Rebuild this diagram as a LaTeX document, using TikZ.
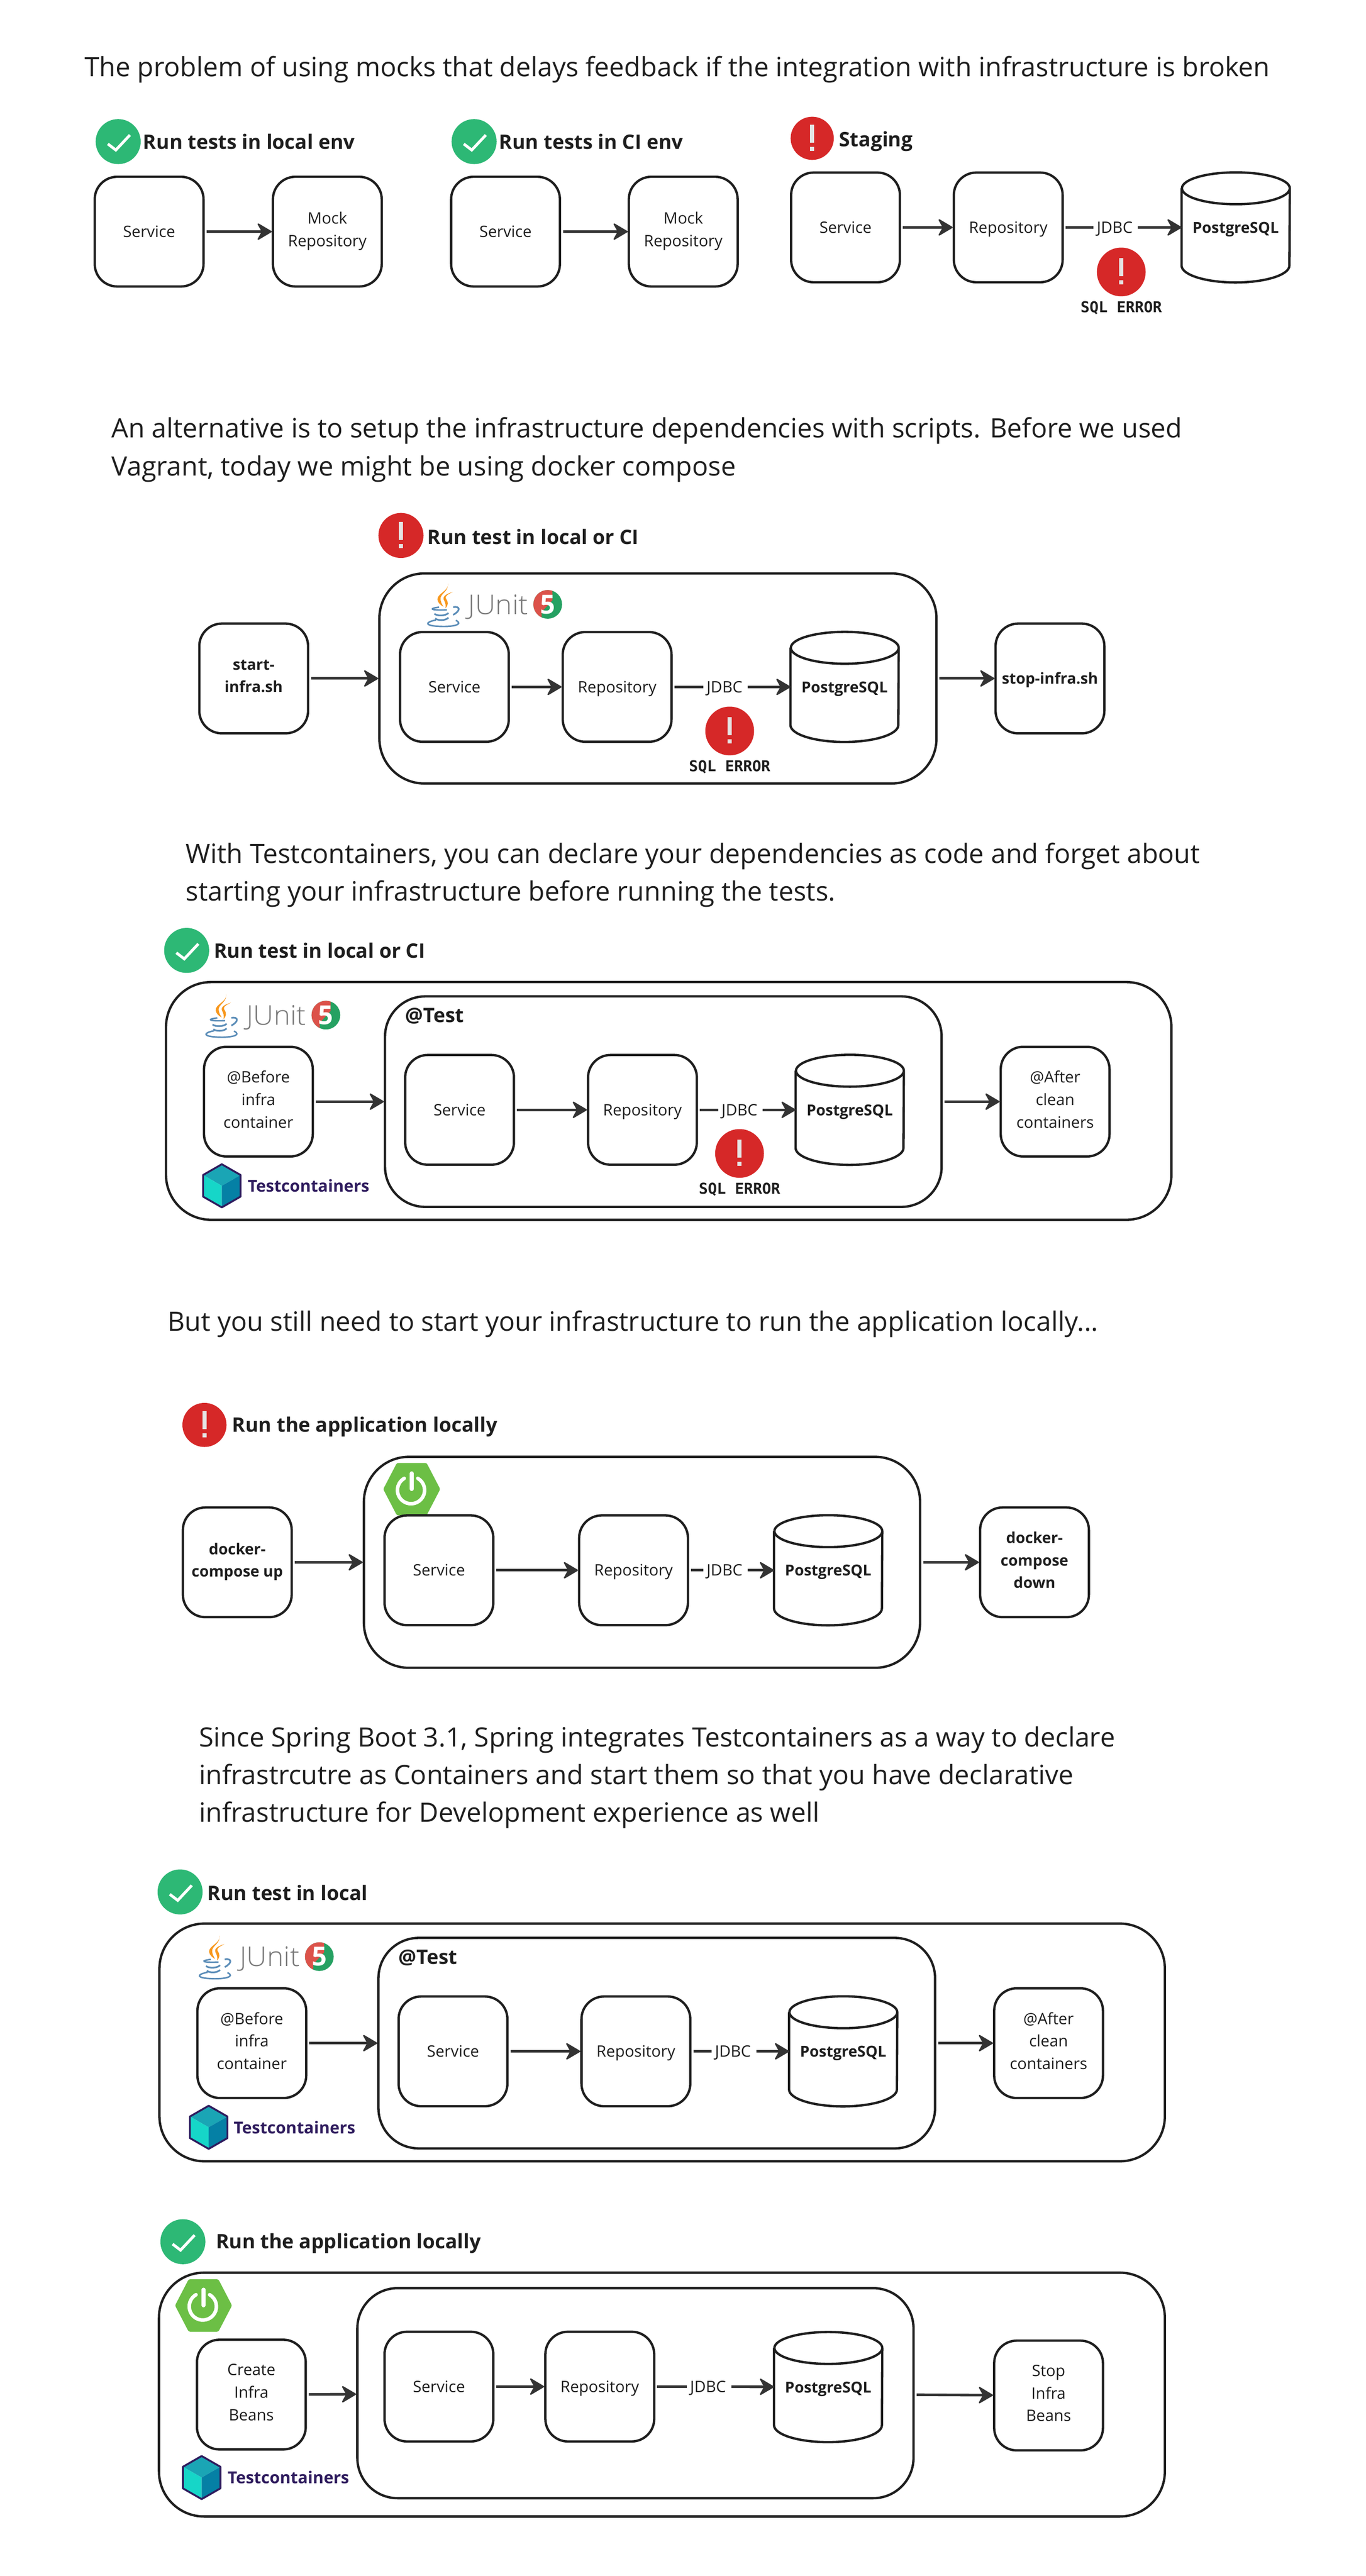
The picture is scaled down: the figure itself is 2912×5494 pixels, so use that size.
\documentclass[tikz,border=0pt]{standalone}
\usepackage{fontspec}
\setmainfont{Open Sans}
\newfontfamily\lite[FakeStretch=1.04]{Open Sans Light}
\newfontfamily\monof{DejaVu Sans Mono}
\usetikzlibrary{arrows.meta}
\definecolor{ink}{HTML}{1E1E1E}
\definecolor{arrowc}{HTML}{333333}
\definecolor{okg}{HTML}{2DB875}
\definecolor{errr}{HTML}{D62828}
\definecolor{tcp}{HTML}{2F1C5E}
\definecolor{springg}{HTML}{6CBF45}
\definecolor{javab}{HTML}{5B8DB8}
\definecolor{javao}{HTML}{F8981D}
\definecolor{juniot}{HTML}{7A7A7A}
\definecolor{jured}{HTML}{DC524A}
\definecolor{jugreen}{HTML}{25A162}
\definecolor{tctop}{HTML}{1AA5B5}
\definecolor{tcleft}{HTML}{16D6C8}
\definecolor{tcright}{HTML}{0580A5}
\newcommand{\vst}{\rule[-5pt]{0pt}{22pt}}
\tikzset{
  x=0.5pt,y=-0.5pt,
  strutted/.style={execute at begin node=\vst,execute at end node=\vst},
  boxn/.style={strutted,draw=ink,line width=2.5pt,rounded corners=24pt,minimum width=116pt,minimum height=117pt,inner sep=0pt,align=center,font=\fontsize{16.8}{24}\selectfont,text=ink},
  boldbox/.style={boxn,font=\bfseries\fontsize{16.2}{24}\selectfont},
  frame/.style n args={2}{draw=ink,line width=2.5pt,rounded corners=48pt,minimum width=#1*0.5pt,minimum height=#2*0.5pt,inner sep=0pt},
  innerframe/.style n args={2}{frame={#1}{#2},rounded corners=43pt},
  dbn/.style={strutted,minimum width=115pt,minimum height=117pt,inner sep=0pt,align=center,font=\bfseries\fontsize{16.2}{24}\selectfont,text=ink},
  dbline/.style={draw=ink,line width=2.5pt},
  arr/.style={draw=arrowc,line width=2.8pt,-{Stealth[length=17pt,width=20pt,inset=5.5pt,line width=1.5pt,round]},shorten <=2pt},
  plainc/.style={draw=arrowc,line width=2.8pt,shorten <=2pt},
  jdbcn/.style={strutted,inner sep=3.5pt,font=\fontsize{16.8}{24}\selectfont,text=ink},
  headn/.style={anchor=west,inner sep=0pt,font=\bfseries\fontsize{21.3}{24}\selectfont,text=ink},
  para/.style={anchor=west,inner sep=0pt,align=left,font=\fontsize{28.4}{40.3}\selectfont,text=ink},
  sqln/.style={inner sep=0pt,font=\monof\bfseries\fontsize{16}{20}\selectfont,text=ink},
  okb/.style={circle,fill=okg,minimum size=48pt,inner sep=0pt},
  errb/.style={circle,fill=errr,minimum size=#1*1pt,inner sep=0pt},
  tctext/.style={anchor=west,inner sep=0pt,font=\bfseries\fontsize{17.6}{20}\selectfont,text=tcp},
}
\newcommand{\okbadge}[3]{%
  \node[okb] (#1) at (#2,#3) {};
  \draw[white,line width=3pt] ([xshift=-11pt,yshift=-2.5pt]#1.center) -- ([xshift=-2.5pt,yshift=-9pt]#1.center) -- ([xshift=12.5pt,yshift=7pt]#1.center);}
\newcommand{\errbadge}[4]{%
  \node[errb=#4] (#1) at (#2,#3) {};
  \fill[white!90!black] ([xshift=-2.3pt,yshift=14.5pt]#1.center) rectangle ([xshift=2.3pt,yshift=-4.5pt]#1.center);
  \fill[white!90!black] ([xshift=-2.3pt,yshift=-9pt]#1.center) rectangle ([xshift=2.3pt,yshift=-13.5pt]#1.center);}
\newcommand{\dbcyl}[3]{%
  \node[dbn] (#1) at (#2,#3) {PostgreSQL};
  \draw[dbline] ([yshift=-17pt]#1.north west) -- ([yshift=18pt]#1.south west)
    arc[start angle=180,end angle=360,x radius=57.5pt,y radius=18pt]
    -- ([yshift=-17pt]#1.north east)
    arc[start angle=0,end angle=180,x radius=57.5pt,y radius=17pt]
    arc[start angle=180,end angle=360,x radius=57.5pt,y radius=17pt];}
\newcommand{\junitlogo}[3]{%
  \begin{scope}[shift={(#2,#3)}]
    \fill[javao] (45.3,-46) .. controls (48,-29.3) and (21.3,-24.3) .. (23,-11) .. controls (23.7,-4.3) and (29.7,.7) .. (35.7,4) .. controls (33,-1) and (28,-7.7) .. (29.7,-16) .. controls (33,-26) and (46.3,-29.3) .. cycle;
    \fill[javao] (55.7,-27.7) .. controls (44.7,-24.3) and (33,-19.3) .. (36.3,-11) .. controls (39.7,-4.3) and (41.3,.7) .. (39.7,7.3) .. controls (46.3,.7) and (46.3,-6) .. (41.3,-12.7) .. controls (38,-19.3) and (46.3,-22.7) .. cycle;
    \draw[javab,line width=1.6pt] (26.3,5) .. controls (5,7.3) and (5,12.3) .. (43,10.7);
    \draw[javab,line width=1.8pt] (16.3,19) .. controls (22,24) and (40,24) .. (46.3,17.3);
    \draw[javab,line width=1.8pt] (18,29) .. controls (24,34) and (40,34) .. (46.3,27.3);
    \draw[javab,line width=1.8pt] (56.3,4.7) .. controls (71.3,2.3) and (73,12.3) .. (56.3,21.3);
    \draw[javab,line width=1.6pt] (19.7,32.3) .. controls (-5,37) and (-5,45) .. (30,46) .. controls (55,47) and (80,42) .. (62,33);
    \node[anchor=base west,inner sep=0pt,text=juniot,font=\lite\fontsize{29}{32}\selectfont] (#1t) at (88,20) {JUnit};
    \fill[jugreen] (258,-1) circle [radius=15.3pt];
    \begin{scope}
      \clip (220,-35) -- (268,-35) -- (268,-10) -- (245,15) -- (245,35) -- (220,35) -- cycle;
      \fill[jured] (258,-1) circle [radius=15.3pt];
    \end{scope}
    \node[inner sep=0pt,text=white,font=\bfseries\fontsize{28}{28}\selectfont] (#1f) at (258,-1) {5};
  \end{scope}}
\newcommand{\tclogo}[4]{%
  \begin{scope}[shift={(#2,#3)}]
    \fill[tctop] (0,-46) -- (40,-23) -- (0,0) -- (-40,-23) -- cycle;
    \fill[tcleft] (-40,-23) -- (0,0) -- (0,46) -- (-40,23) -- cycle;
    \fill[tcright] (40,-23) -- (0,0) -- (0,46) -- (40,23) -- cycle;
    \draw[tcp,line width=2pt,line join=round] (0,-46) -- (40,-23) -- (40,23) -- (0,46) -- (-40,23) -- (-40,-23) -- cycle;
    \node[tctext] (#1) at (#4,0) {Testcontainers};
  \end{scope}}
\newcommand{\springlogo}[3]{%
  \begin{scope}[shift={(#2,#3)}]
    \node[inner sep=0pt,minimum size=0pt] (#1) at (0,0) {};
    \fill[springg,draw=springg,line width=6pt,line join=round] (-54,0) -- (-28,-50) -- (28,-50) -- (54,0) -- (28,50) -- (-28,50) -- cycle;
    \draw[white,line width=3.8pt,line cap=round] (13,-23) arc[start angle=60,end angle=-240,x radius=14.5pt,y radius=14.5pt];
    \draw[white,line width=4pt,line cap=round] (0,-34) -- (0,0);
  \end{scope}}
\begin{document}
\begin{tikzpicture}
\useasboundingbox (0,0) rectangle (2912,5494);
\fill[white] (0,0) rectangle (2912,5494);

% Section 1
\node[para] (t1) at (180,148) {The problem of using mocks that delays feedback if the integration with infrastructure is broken};
\okbadge{c1}{252}{302}
\node[headn] (h1) at (305,302) {Run tests in local env};
\node[boxn] (s1) at (318,494) {Service};
\node[boxn] (m1) at (698,494) {Mock\\Repository};
\draw[arr] (s1) -- (m1);
\okbadge{c2}{1011}{302}
\node[headn] (h2) at (1064,302) {Run tests in CI env};
\node[boxn] (s2) at (1078,494) {Service};
\node[boxn] (m2) at (1457,494) {Mock\\Repository};
\draw[arr] (s2) -- (m2);
\errbadge{e3}{1732}{295}{46}
\node[headn] (h3) at (1789,301) {Staging};
\node[boxn] (s3) at (1803,485) {Service};
\node[boxn] (r3) at (2150,485) {Repository};
\dbcyl{p3}{2635}{485}
\node[jdbcn] (j3) at (2377,485) {JDBC};
\draw[arr] (s3) -- (r3);
\draw[plainc] (r3) -- (j3);
\draw[arr] (j3) -- (p3);
\errbadge{x3}{2391}{580}{52}
\node[sqln] (q3) at (2391,657) {SQL ERROR};

% Section 2
\node[para] (t2) at (238,959) {An alternative is to setup the infrastructure dependencies with scripts. Before we used\\Vagrant, today we might be using docker compose};
\errbadge{e4}{855}{1142}{48}
\node[headn] (h4) at (911,1145) {Run test in local or CI};
\node[frame={1188}{448}] (o4) at (1403,1447) {};
\junitlogo{ju4}{910}{1290}
\node[boldbox] (b4) at (541,1447) {start-\\infra.sh};
\node[boxn] (s4) at (969,1465) {Service};
\node[boxn] (r4) at (1316,1465) {Repository};
\dbcyl{p4}{1801}{1465}
\node[jdbcn] (j4) at (1545,1465) {JDBC};
\node[boldbox] (a4) at (2239,1447) {stop-infra.sh};
\draw[arr] (b4) -- (o4);
\draw[arr] (s4) -- (r4);
\draw[plainc] (r4) -- (j4);
\draw[arr] (j4) -- (p4);
\draw[arr] (o4) -- (a4);
\errbadge{x4}{1556}{1559}{52}
\node[sqln] (q4) at (1556,1636) {SQL ERROR};

% Section 3
\node[para] (t3) at (396,1866) {With Testcontainers, you can declare your dependencies as code and forget about\\starting your infrastructure before running the tests.};
\okbadge{c5}{398}{2027}
\node[headn] (h5) at (456,2027) {Run test in local or CI};
\node[frame={2144}{507}] (o5) at (1426,2348) {};
\node[innerframe={1187}{449}] (i5) at (1414.5,2349.5) {};
\junitlogo{ju5}{437}{2166}
\node[headn] (at5) at (864,2167) {@Test};
\node[boxn] (b5) at (551,2349.5) {@Before\\infra\\container};
\node[boxn] (s5) at (980,2367) {Service};
\node[boxn] (r5) at (1370,2367) {Repository};
\dbcyl{p5}{1812}{2367}
\node[jdbcn] (j5) at (1577,2367) {JDBC};
\node[boxn] (a5) at (2250,2349.5) {@After\\clean\\containers};
\draw[arr] (b5) -- (i5);
\draw[arr] (s5) -- (r5);
\draw[plainc] (r5) -- (j5);
\draw[arr] (j5) -- (p5);
\draw[arr] (i5) -- (a5);
\errbadge{x5}{1577}{2460}{52}
\node[sqln] (q5) at (1577,2537) {SQL ERROR};
\tclogo{tc5}{473}{2529}{55}

% Section 4
\node[para] (t4) at (357,2824) {But you still need to start your infrastructure to run the application locally...};
\errbadge{e6}{436}{3039}{47}
\node[headn] (h6) at (495,3043) {Run the application locally};
\node[frame={1186}{450}] (o6) at (1369,3332) {};
\springlogo{sp6}{878}{3176}
\node[boldbox] (b6) at (506,3332) {docker-\\compose up};
\node[boxn] (s6) at (936,3349) {Service};
\node[boxn] (r6) at (1351,3349) {Repository};
\dbcyl{p6}{1766}{3349}
\node[jdbcn] (j6) at (1545,3349) {JDBC};
\node[boldbox] (a6) at (2206,3332) {docker-\\compose\\down};
\draw[arr] (b6) -- (o6);
\draw[arr] (s6) -- (r6);
\draw[plainc] (r6) -- (j6);
\draw[arr] (j6) -- (p6);
\draw[arr] (o6) -- (a6);

% Section 5
\node[para] (t5) at (424,3791) {Since Spring Boot 3.1, Spring integrates Testcontainers as a way to declare\\infrastrcutre as Containers and start them so that you have declarative\\infrastructure for Development experience as well};
\okbadge{c7}{384}{4035}
\node[headn] (h7) at (442,4037) {Run test in local};
\node[frame={2144}{507}] (o7) at (1412,4356) {};
\node[innerframe={1187}{449}] (i7) at (1400.5,4357.5) {};
\junitlogo{ju7}{423}{4174}
\node[headn] (at7) at (850,4175) {@Test};
\node[boxn] (b7) at (537,4357.5) {@Before\\infra\\container};
\node[boxn] (s7) at (966,4375) {Service};
\node[boxn] (r7) at (1356,4375) {Repository};
\dbcyl{p7}{1798}{4375}
\node[jdbcn] (j7) at (1563,4375) {JDBC};
\node[boxn] (a7) at (2236,4357.5) {@After\\clean\\containers};
\draw[arr] (b7) -- (i7);
\draw[arr] (s7) -- (r7);
\draw[plainc] (r7) -- (j7);
\draw[arr] (j7) -- (p7);
\draw[arr] (i7) -- (a7);
\tclogo{tc7}{445}{4537}{53}

% Section 6
\okbadge{c8}{390}{4781}
\node[headn] (h8) at (460,4785) {Run the application locally};
\node[frame={2145}{520}] (o8) at (1411.5,5107) {};
\node[innerframe={1186}{448}] (i8) at (1355,5104) {};
\springlogo{sp8}{434}{4917}
\node[boxn] (b8) at (536,5107) {Create\\Infra\\Beans};
\node[boxn] (s8) at (936,5090) {Service};
\node[boxn] (r8) at (1279,5090) {Repository};
\dbcyl{p8}{1766}{5091}
\node[jdbcn] (j8) at (1510,5090) {JDBC};
\node[boxn] (a8) at (2236,5109) {Stop\\Infra\\Beans};
\draw[arr] (b8) -- (i8);
\draw[arr] (s8) -- (r8);
\draw[plainc] (r8) -- (j8);
\draw[arr] (j8) -- (p8);
\draw[arr] (i8) -- (a8);
\tclogo{tc8}{430}{5284}{55}
\end{tikzpicture}
\end{document}
